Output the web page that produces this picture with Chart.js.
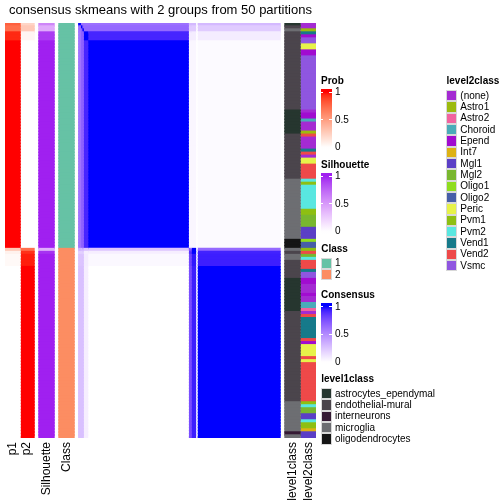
<!DOCTYPE html>
<html>
<head>
<meta charset="utf-8">
<script src="https://cdn.jsdelivr.net/npm/chart.js@4.4.1/dist/chart.umd.min.js"></script>
<style>
  body { margin: 0; background: #fff; }
  #wrap { position: relative; width: 504px; height: 504px; overflow: hidden; background: #fff;
          font-family: 'Liberation Sans', Arial, Helvetica, sans-serif; color: #000; }
  #heat { position: absolute; left: 0; top: 0; }
  .lg-title { position: absolute; font-size: 10px; font-weight: bold; line-height: 12px; white-space: nowrap; }
  .lg-label { position: absolute; font-size: 10px; line-height: 12px; white-space: nowrap; }
  .lg-box { position: absolute; box-sizing: border-box; }
</style>
</head>
<body>
<div id="wrap">
  <canvas id="heat" width="504" height="504"></canvas>
</div>
<script>
// samples are grouped (in heatmap order); each group shares its values
const groupSizes  = [1, 1, 1, 3, 69, 1, 1, 3, 1, 57];
const groupProb1  = [0.78, 0.72, 0.72, 0.95, 1, 0.28, 0.07, 0.03, 0.03, 0];
const groupProb2  = [0.22, 0.28, 0.28, 0.05, 0, 0.72, 0.93, 0.97, 0.97, 1];
const groupSilhouette = [0.6, 0.42, 0.42, 0.92, 1, 0.4, 0.95, 1, 1, 1];
const groupClass  = [1, 1, 1, 1, 1, 2, 2, 2, 2, 2];

// consensus between groups: row group x column group
const consensus = [
  [1,    0.62, 0.62, 0.62, 0.62, 0.3,  0.3,  0.3,  0, 0.3 ],
  [0.62, 1,    0.68, 0.65, 0.65, 0.22, 0.22, 0.22, 0, 0.22],
  [0.62, 0.68, 1,    0.65, 0.65, 0.22, 0.22, 0.22, 0, 0.22],
  [0.6,  0.68, 0.68, 1,    0.92, 0.08, 0.08, 0.08, 0, 0.08],
  [0.6,  0.68, 0.68, 0.92, 1,    0.04, 0.04, 0.04, 0, 0.02],
  [0.32, 0.3,  0.3,  0.25, 0.25, 0.75, 0.75, 1,    0, 0.65],
  [0.2,  0.2,  0.2,  0.07, 0.07, 0.88, 0.88, 1,    0, 0.93],
  [0.25, 0.25, 0.25, 0.08, 0.03, 0.8,  0.8,  0.96, 0, 0.94],
  [0.25, 0.25, 0.25, 0.08, 0.03, 0.8,  0.8,  0.96, 0, 0.94],
  [0.27, 0.27, 0.27, 0.07, 0,    0.77, 0.77, 0.94, 0, 1   ]
];

// run-length annotation tracks: [class, number of samples]
const level1Runs = [
  ['astrocytes_ependymal', 1], ['endothelial-mural', 1], ['microglia', 1], ['endothelial-mural', 26],
  ['astrocytes_ependymal', 8], ['endothelial-mural', 15], ['microglia', 20], ['oligodendrocytes', 3],
  ['microglia', 1], ['endothelial-mural', 1], ['microglia', 2], ['endothelial-mural', 6],
  ['astrocytes_ependymal', 11], ['endothelial-mural', 30], ['microglia', 10], ['interneurons', 1],
  ['microglia', 1]
];
const level2Runs = [
  ['(none)', 2], ['Astro1', 1], ['Vend1', 1], ['Epend', 1], ['Vsmc', 2], ['Peric', 2], ['Epend', 2],
  ['Vsmc', 18], ['(none)', 1], ['Epend', 2], ['Choroid', 1], ['(none)', 3], ['Astro1', 1], ['Vend2', 1],
  ['(none)', 4], ['Vend1', 1], ['Vend2', 1], ['(none)', 1], ['Peric', 2], ['Vend2', 5], ['Pvm2', 1],
  ['Pvm1', 1], ['Pvm2', 8], ['Pvm1', 2], ['Mgl2', 4], ['Mgl1', 4], ['Oligo1', 1], ['Oligo2', 2],
  ['Pvm1', 1], ['Vend2', 1], ['Mgl2', 1], ['Pvm2', 1], ['Vend2', 3], ['Vend1', 1], ['Vsmc', 2],
  ['Epend', 2], ['(none)', 3], ['Epend', 1], ['(none)', 2], ['Choroid', 2], ['Astro2', 1], ['(none)', 1],
  ['Vend2', 1], ['Vend1', 7], ['Vend2', 1], ['Epend', 1], ['Peric', 4], ['Vend2', 1], ['Peric', 1],
  ['Vend2', 13], ['Pvm1', 1], ['Pvm2', 1], ['Mgl2', 2], ['Mgl1', 2], ['Pvm2', 1], ['Pvm1', 2],
  ['Int7', 1], ['Mgl1', 2]
];

const level1Names  = ['astrocytes_ependymal', 'endothelial-mural', 'interneurons', 'microglia', 'oligodendrocytes'];
const level1Colors = ['#26362f', '#4b454c', '#351a34', '#6d6e72', '#151515'];
const level2Names  = ['(none)', 'Astro1', 'Astro2', 'Choroid', 'Epend', 'Int7', 'Mgl1', 'Mgl2',
                      'Oligo1', 'Oligo2', 'Peric', 'Pvm1', 'Pvm2', 'Vend1', 'Vend2', 'Vsmc'];
const level2Colors = ['#a42bd2', '#9cbb0e', '#f2639f', '#4aacb9', '#a10cd0', '#ddb214', '#5b3fc6', '#79b72f',
                      '#8fdd1f', '#475ea8', '#e7f24a', '#8ebf12', '#59e7e0', '#167a8a', '#ee4949', '#8f56e0'];
const classNames  = ['1', '2'];
const classColors = ['#66c2a5', '#fc8d62'];
const columnLabels = ['p1', 'p2', 'Silhouette', 'Class', 'level1class', 'level2class'];

// ---- colour ramps (white -> colour, interpolated in Lab like ComplexHeatmap) ----
function hexToRgb(h) { return [1, 3, 5].map(i => parseInt(h.slice(i, i + 2), 16)); }
function toLab(rgb) {
  const l = rgb.map(c => { c /= 255; return c <= 0.04045 ? c / 12.92 : Math.pow((c + 0.055) / 1.055, 2.4); });
  const X = (0.4124 * l[0] + 0.3576 * l[1] + 0.1805 * l[2]) / 0.95047;
  const Y = 0.2126 * l[0] + 0.7152 * l[1] + 0.0722 * l[2];
  const Z = (0.0193 * l[0] + 0.1192 * l[1] + 0.9505 * l[2]) / 1.08883;
  const f = t => t > 0.008856 ? Math.cbrt(t) : 7.787 * t + 16 / 116;
  return [116 * f(Y) - 16, 500 * (f(X) - f(Y)), 200 * (f(Y) - f(Z))];
}
function fromLab(lab) {
  const fy = (lab[0] + 16) / 116, fx = fy + lab[1] / 500, fz = fy - lab[2] / 200;
  const inv = t => t * t * t > 0.008856 ? t * t * t : (t - 16 / 116) / 7.787;
  const X = inv(fx) * 0.95047, Y = inv(fy), Z = inv(fz) * 1.08883;
  const lin = [3.2406 * X - 1.5372 * Y - 0.4986 * Z,
              -0.9689 * X + 1.8758 * Y + 0.0415 * Z,
               0.0557 * X - 0.2040 * Y + 1.0570 * Z];
  const out = lin.map(c => {
    c = Math.min(1, Math.max(0, c));
    return Math.round(255 * (c <= 0.0031308 ? 12.92 * c : 1.055 * Math.pow(c, 1 / 2.4) - 0.055));
  });
  return 'rgb(' + out.join(',') + ')';
}
function ramp(hex) {
  const a = toLab([255, 255, 255]), b = toLab(hexToRgb(hex));
  return v => fromLab(a.map((x, i) => x + (b[i] - x) * v));
}
const probColor = ramp('#ff0000');
const silColor = ramp('#a020f0');
const consColor = ramp('#0000ff');

// ---- layout (page pixels == x units) ----
const cols = {
  p1: [5, 20], p2: [20, 34], silhouette: [39, 54], cls: [59, 74],
  consensus: [78.8, 280], level1: [285, 300], level2: [301, 316]
};
const labelCols = [cols.p1, cols.p2, cols.silhouette, cols.cls, cols.level1, cols.level2];

// expand groups / runs to one entry per sample
const rowGroup = [];
groupSizes.forEach((n, g) => { for (let k = 0; k < n; k++) rowGroup.push(g); });
const N = rowGroup.length;
const sampleIds = rowGroup.map((g, i) => 'S' + (i + 1));
function expandRuns(runs) {
  const out = [];
  runs.forEach(([name, n]) => { for (let k = 0; k < n; k++) out.push(name); });
  return out;
}
const level1 = expandRuns(level1Runs);
const level2 = expandRuns(level2Runs);

function track(range, colors) {
  return {
    data: sampleIds.map(() => range.slice()),
    backgroundColor: colors,
    grouped: false, barPercentage: 1, categoryPercentage: 1, borderWidth: 0,
    inflateAmount: 0.7   // hide the hairline seams between neighbouring cells
  };
}

const datasets = [
  track(cols.p1, rowGroup.map(g => probColor(groupProb1[g]))),
  track(cols.p2, rowGroup.map(g => probColor(groupProb2[g]))),
  track(cols.silhouette, rowGroup.map(g => silColor(groupSilhouette[g]))),
  track(cols.cls, rowGroup.map(g => classColors[groupClass[g] - 1])),
  track(cols.level1, level1.map(n => level1Colors[level1Names.indexOf(n)])),
  track(cols.level2, level2.map(n => level2Colors[level2Names.indexOf(n)]))
];

// consensus matrix: one dataset per column group
const cellW = (cols.consensus[1] - cols.consensus[0]) / N;
let start = 0;
groupSizes.forEach((n, g) => {
  const x0 = cols.consensus[0] + start * cellW;
  const x1 = cols.consensus[0] + (start + n) * cellW;
  datasets.push(track([x0, x1], rowGroup.map(r => consColor(consensus[r][g]))));
  start += n;
});

const fontFamily = "'Liberation Sans', Arial, Helvetica, sans-serif";

new Chart(document.getElementById('heat'), {
  type: 'bar',
  data: { labels: sampleIds, datasets: datasets },
  options: {
    indexAxis: 'y',
    responsive: false,
    animation: false,
    events: [],
    layout: { padding: { left: 5, right: 188, top: 0, bottom: 0 } },
    scales: {
      y: { type: 'category', display: false, grid: { display: false } },
      x: {
        type: 'linear', min: 5, max: 316, bounds: 'data',
        grid: { display: false, drawTicks: false },
        border: { display: false },
        afterBuildTicks: s => { s.ticks = labelCols.map(c => ({ value: (c[0] + c[1]) / 2 })); },
        afterFit: s => { s.height = 66; },
        ticks: {
          autoSkip: false, minRotation: 90, maxRotation: 90, padding: 4, color: '#000',
          font: { size: 12, family: fontFamily },
          callback: (v, i) => columnLabels[i]
        }
      }
    },
    plugins: {
      legend: { display: false },
      tooltip: { enabled: false },
      title: {
        display: true,
        text: 'consensus skmeans with 2 groups from 50 partitions',
        color: '#000',
        font: { size: 13, family: fontFamily, weight: 'normal' },
        padding: { top: 3, bottom: 4.4 }
      }
    }
  }
});

// ---- legends ----
const wrap = document.getElementById('wrap');
function addEl(cls, text, left, top, style) {
  const d = document.createElement('div');
  d.className = cls;
  if (text !== null) d.textContent = text;
  d.style.left = left + 'px';
  d.style.top = top + 'px';
  Object.assign(d.style, style || {});
  wrap.appendChild(d);
  return d;
}
function gradientLegend(title, colorFn, titleY, y1, y0, barTop, barBottom) {
  addEl('lg-title', title, 321, titleY - 6);
  const stops = [];
  for (let k = 0; k <= 20; k++) {
    const y = barTop + (barBottom - barTop) * k / 20;
    const v = Math.max(0, Math.min(1, (y0 - y) / (y0 - y1)));
    stops.push(colorFn(v) + ' ' + (k * 5) + '%');
  }
  addEl('lg-box', null, 320.7, barTop, {
    width: '11.3px', height: (barBottom - barTop) + 'px',
    background: 'linear-gradient(to bottom, ' + stops.join(', ') + ')'
  });
  [[1, '1'], [0.5, '0.5'], [0, '0']].forEach(([v, t]) => {
    const y = y0 - (y0 - y1) * v;
    addEl('lg-label', t, 335, y - 6);
    if (v > 0) {
      addEl('lg-box', null, 320.7, y - 0.5, { width: '2.6px', height: '1px', background: '#fff' });
      addEl('lg-box', null, 329.4, y - 0.5, { width: '2.6px', height: '1px', background: '#fff' });
    }
  });
}
function discreteLegend(title, names, colors, x, titleY, firstY) {
  addEl('lg-title', title, x + 0.5, titleY - 6);
  names.forEach((n, i) => {
    const cy = firstY + i * 11.33;
    addEl('lg-box', null, x, cy - 5.67, {
      width: '11.3px', height: '11.33px', background: colors[i], border: '0.5px solid #d8d8d8'
    });
    addEl('lg-label', n, x + 14.3, cy - 6);
  });
}

gradientLegend('Prob', probColor, 81, 92, 147.4, 89, 150);
gradientLegend('Silhouette', silColor, 165, 176, 231.4, 172.7, 234);
discreteLegend('Class', classNames, classColors, 320.7, 249, 263.3);
gradientLegend('Consensus', consColor, 295, 306.7, 362.1, 303, 365);
discreteLegend('level1class', level1Names, level1Colors, 320.7, 379, 393.7);
discreteLegend('level2class', level2Names, level2Colors, 446, 81, 95.7);
</script>
</body>
</html>
